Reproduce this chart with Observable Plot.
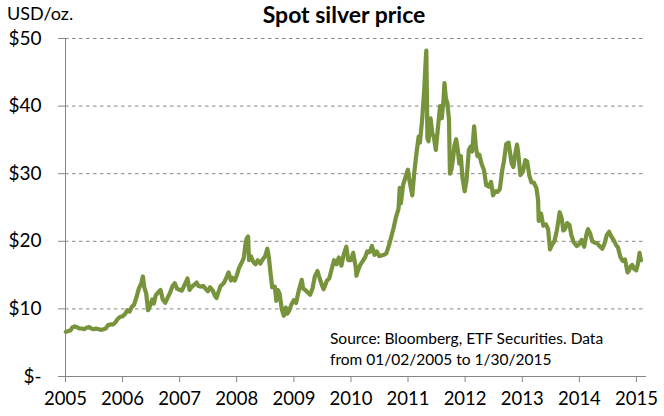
<!DOCTYPE html>
<html>
<head>
<meta charset="utf-8">
<script src="https://cdn.jsdelivr.net/npm/d3@7"></script>
<script src="https://cdn.jsdelivr.net/npm/@observablehq/plot@0.6"></script>
<style>
  html, body { margin: 0; padding: 0; background: #fff; }
  #wrap { position: relative; width: 664px; height: 416px; font-family: Lato, "Open Sans", sans-serif; }
  #title { position: absolute; left: 0; width: 688px; top: 0px; text-align: center; font-weight: bold; font-size: 23px; color: #000; }
  #unit { position: absolute; left: 7px; top: 2px; font-size: 18px; color: #000; }
  #source { position: absolute; left: 330px; top: 328px; font-size: 15.5px; line-height: 20.5px; color: #000; }
  svg { position: absolute; left: 0; top: 0; }
</style>
</head>
<body>
<div id="wrap">
  <div id="unit">USD/oz.</div>
  <div id="title">Spot silver price</div>
  <div id="source">Source: Bloomberg, ETF Securities. Data<br>from 01/02/2005 to 1/30/2015</div>
</div>
<script>
const dates = [
"2005-01-03","2005-01-15","2005-02-01","2005-02-15","2005-03-01","2005-03-15","2005-04-01","2005-04-15","2005-05-01","2005-05-15","2005-06-01","2005-06-15","2005-07-01","2005-07-15","2005-08-01","2005-08-15","2005-09-01","2005-09-15","2005-10-01","2005-10-15","2005-11-01","2005-11-15","2005-12-01","2005-12-15",
"2006-01-01","2006-01-15","2006-02-01","2006-02-15","2006-03-01","2006-03-15","2006-04-01","2006-04-15","2006-05-01","2006-05-11","2006-05-20","2006-06-01","2006-06-13","2006-06-25","2006-07-10","2006-07-20","2006-08-01","2006-08-15","2006-09-01","2006-09-15","2006-10-01","2006-10-15","2006-11-01","2006-11-15","2006-12-01","2006-12-15",
"2007-01-01","2007-01-15","2007-02-01","2007-02-20","2007-03-05","2007-03-20","2007-04-01","2007-04-20","2007-05-01","2007-05-15","2007-06-01","2007-06-15","2007-07-01","2007-07-15","2007-08-01","2007-08-15","2007-08-25","2007-09-05","2007-09-20","2007-10-01","2007-10-15","2007-11-01","2007-11-10","2007-11-25","2007-12-05","2007-12-20",
"2008-01-01","2008-01-15","2008-02-01","2008-02-15","2008-02-28","2008-03-05","2008-03-14","2008-03-20","2008-04-01","2008-04-15","2008-05-01","2008-05-15","2008-06-01","2008-06-15","2008-07-01","2008-07-15","2008-07-25","2008-08-05","2008-08-15","2008-09-01","2008-09-10","2008-09-20","2008-10-01","2008-10-15","2008-10-28","2008-11-10","2008-11-20","2008-12-01","2008-12-15",
"2009-01-01","2009-01-15","2009-02-01","2009-02-20","2009-03-01","2009-03-15","2009-04-01","2009-04-15","2009-05-01","2009-05-15","2009-06-01","2009-06-15","2009-07-01","2009-07-10","2009-08-01","2009-08-15","2009-09-01","2009-09-15","2009-10-01","2009-10-15","2009-11-01","2009-11-15","2009-12-02","2009-12-15",
"2010-01-01","2010-01-15","2010-02-01","2010-02-05","2010-02-15","2010-03-01","2010-03-15","2010-04-01","2010-04-15","2010-05-01","2010-05-15","2010-06-01","2010-06-15","2010-07-01","2010-07-15","2010-08-01","2010-08-15","2010-09-01","2010-09-15","2010-10-01","2010-10-15","2010-11-01","2010-11-09","2010-11-16","2010-12-01","2010-12-15","2010-12-31",
"2011-01-10","2011-01-28","2011-02-10","2011-02-25","2011-03-10","2011-03-18","2011-04-01","2011-04-15","2011-04-25","2011-04-28","2011-05-05","2011-05-12","2011-05-25","2011-06-05","2011-06-15","2011-06-28","2011-07-10","2011-07-25","2011-08-05","2011-08-15","2011-08-22","2011-08-31","2011-09-10","2011-09-20","2011-09-26","2011-10-05","2011-10-15","2011-10-25","2011-11-05","2011-11-15","2011-11-25","2011-12-05","2011-12-15","2011-12-29",
"2012-01-10","2012-01-25","2012-02-05","2012-02-15","2012-02-28","2012-03-10","2012-03-20","2012-04-01","2012-04-15","2012-05-01","2012-05-15","2012-06-01","2012-06-15","2012-06-28","2012-07-10","2012-07-25","2012-08-10","2012-08-25","2012-09-05","2012-09-20","2012-10-05","2012-10-15","2012-10-25","2012-11-05","2012-11-15","2012-11-28","2012-12-05","2012-12-20",
"2013-01-05","2013-01-20","2013-02-01","2013-02-15","2013-03-01","2013-03-15","2013-04-01","2013-04-12","2013-04-16","2013-05-01","2013-05-15","2013-06-01","2013-06-15","2013-06-27","2013-07-10","2013-07-25","2013-08-10","2013-08-28","2013-09-10","2013-09-20","2013-10-01","2013-10-15","2013-10-30","2013-11-10","2013-11-25","2013-12-05","2013-12-15",
"2014-01-01","2014-01-15","2014-02-01","2014-02-15","2014-02-25","2014-03-10","2014-03-25","2014-04-10","2014-04-25","2014-05-10","2014-05-28","2014-06-10","2014-06-25","2014-07-10","2014-07-25","2014-08-10","2014-08-25","2014-09-05","2014-09-20","2014-10-05","2014-10-20","2014-11-05","2014-11-15","2014-11-25","2014-12-05","2014-12-15","2014-12-31",
"2015-01-10","2015-01-21","2015-01-26","2015-01-30"
];
const prices = [
6.6,6.7,6.8,7.3,7.4,7.3,7.1,7.1,7.0,7.2,7.3,7.1,7.0,7.1,7.0,6.9,7.0,7.1,7.6,7.7,7.7,8.0,8.5,8.8,
8.9,9.2,9.8,9.6,10.3,10.6,11.8,13.0,13.8,14.8,13.2,12.3,9.8,10.4,11.4,10.8,12.0,12.4,12.8,11.4,10.9,11.6,12.4,13.3,13.8,13.0,
12.8,12.7,13.5,14.5,12.8,13.3,13.5,13.9,13.4,13.3,13.4,13.0,12.6,13.2,12.7,11.9,11.6,12.4,13.4,13.6,14.0,14.9,15.4,14.2,14.6,14.2,
14.9,16.0,16.8,17.5,19.9,20.4,20.7,17.2,17.8,17.0,16.6,17.2,16.7,17.3,17.8,18.9,17.6,15.2,13.2,13.3,11.2,12.8,12.3,10.0,9.0,10.2,9.3,9.7,10.6,
11.3,10.9,12.7,14.3,13.0,12.8,12.4,12.1,13.1,14.8,15.6,14.5,13.4,12.9,14.2,14.5,16.0,17.2,16.6,17.6,16.4,18.0,19.2,17.2,
17.2,18.3,16.1,14.9,15.7,16.5,17.0,17.6,18.5,18.4,19.3,18.0,18.5,17.8,17.9,18.0,18.2,19.4,20.6,22.0,23.5,24.8,27.9,25.6,28.4,29.4,30.6,
29.0,26.8,30.2,33.2,35.5,34.6,37.9,42.6,47.2,48.2,35.2,34.8,38.2,36.0,35.4,33.5,36.5,40.0,38.2,40.6,43.4,41.2,40.4,38.0,30.0,30.6,32.0,34.2,35.1,33.6,31.5,32.6,29.4,27.4,
29.0,33.5,34.0,33.3,37.0,34.0,32.6,32.8,31.5,30.5,28.3,28.1,28.8,26.8,27.4,27.3,27.7,30.4,31.8,34.4,34.6,33.0,31.5,31.0,32.7,34.3,33.2,29.8,
30.3,32.0,31.8,29.7,28.7,28.7,27.9,26.1,23.0,24.1,22.3,22.5,21.8,18.8,19.5,20.0,21.6,24.3,23.4,21.6,21.8,22.7,22.4,21.0,19.9,19.6,19.3,
19.6,20.2,19.2,21.0,21.8,21.2,20.0,19.8,19.7,19.3,18.9,19.6,20.9,21.4,20.7,20.1,19.4,19.1,17.7,17.1,17.3,15.4,15.7,16.3,16.5,16.0,15.7,
16.6,18.3,17.6,17.2
];
const yearTicks = [2005,2006,2007,2008,2009,2010,2011,2012,2013,2014,2015];
const priceTicks = [0,10,20,30,40,50];
const gridTicks = [10,20,30,40,50];

const parse = d3.utcParse("%Y-%m-%d");
const data = dates.map((d, i) => ({date: parse(d), price: prices[i]}));
const axisColor = "#868686";

const chart = Plot.plot({
  width: 664,
  height: 416,
  marginLeft: 65,
  marginRight: 19,
  marginTop: 38,
  marginBottom: 40,
  style: {fontFamily: "Lato, 'Open Sans', sans-serif", color: "#000", background: "transparent"},
  x: {type: "utc", domain: [new Date(Date.UTC(2005,0,1)), new Date(Date.UTC(2015,1,28))]},
  y: {domain: [0, 50]},
  marks: [
    Plot.gridY(gridTicks, {stroke: axisColor, strokeOpacity: 1, strokeDasharray: "3.5,3.5", strokeWidth: 1}),
    Plot.axisY(priceTicks, {tickSize: 7, tickPadding: 17, fontSize: 19, stroke: axisColor, tickFormat: d => d === 0 ? "$-" : "$" + d, label: null}),
    Plot.axisX(yearTicks.map(y => new Date(Date.UTC(y,0,1))), {tickSize: 6, tickPadding: 9, fontSize: 18.5, stroke: axisColor, tickFormat: d3.utcFormat("%Y"), label: null}),
    Plot.frame({anchor: "left", stroke: axisColor}),
    Plot.frame({anchor: "bottom", stroke: axisColor}),
    Plot.line(data, {x: "date", y: "price", stroke: "#77933C", strokeWidth: 4.2, strokeLinejoin: "round"})
  ]
});
document.getElementById("wrap").prepend(chart);
</script>
</body>
</html>
